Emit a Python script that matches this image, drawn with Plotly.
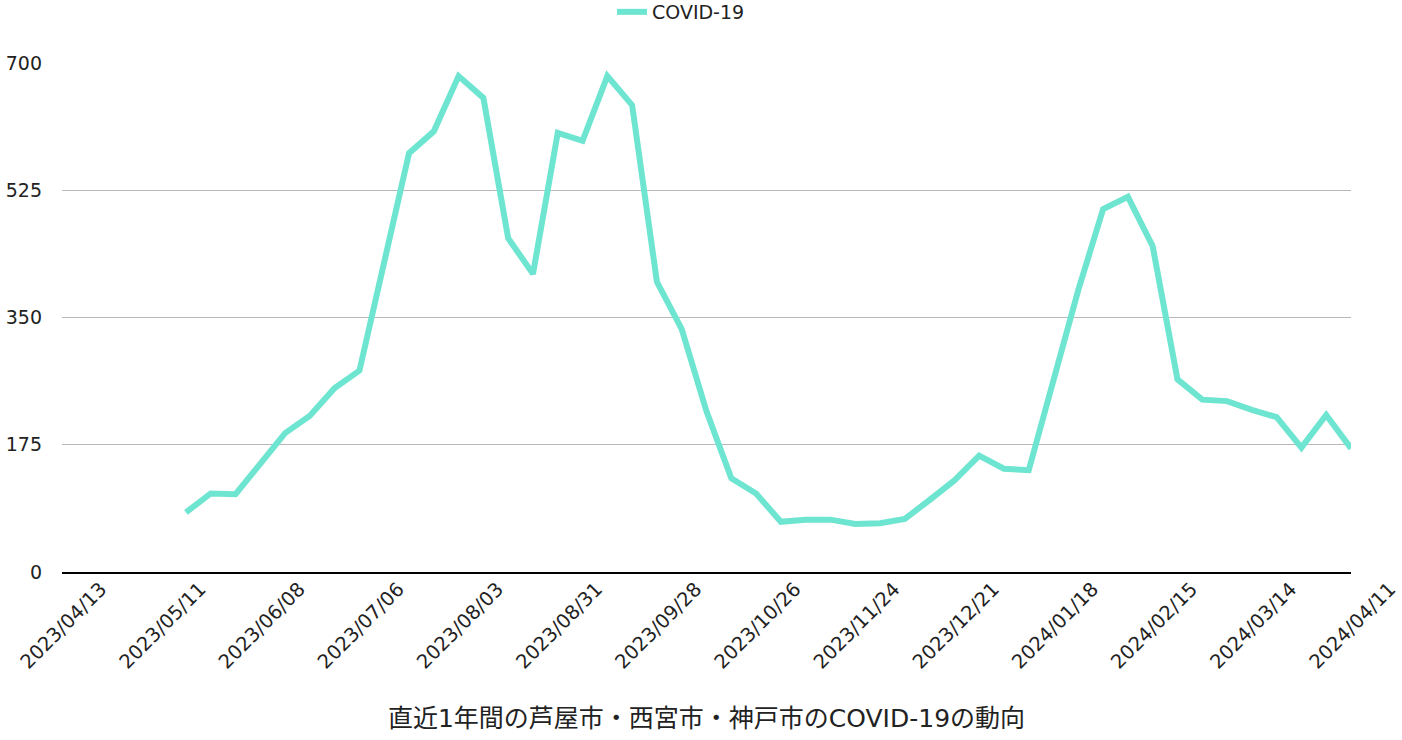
import datetime as dt
import plotly.graph_objects as go

start = dt.date(2023, 4, 13)
dates = [(start + dt.timedelta(weeks=i)).strftime("%Y/%m/%d") for i in range(53)]
dates[32] = "2023/11/24"

covid = [None, None, None, None, None,
         82, 108, 107, 150, 191, 215, 253, 277, 428, 576,
         606, 682, 652, 459, 410, 604, 593, 682, 642, 399,
         334, 221, 129, 108, 69, 72, 72, 66, 67, 73,
         99, 126, 160, 142, 140, 263, 388, 499, 516, 448,
         265, 237, 235, 223, 213, 171, 216, 170]

tick_labels = dates[::4]
y_ticks = [0, 175, 350, 525, 700]

font_family = "DejaVu Sans, Noto Sans CJK JP, sans-serif"

W, H = 1402, 740

fig = go.Figure()
fig.add_trace(go.Scatter(
    x=dates, y=covid, mode="lines", name="COVID-19",
    line=dict(color="#6ee5d0", width=6),
    connectgaps=False,
))

fig.update_layout(
    width=W, height=H,
    margin=dict(l=62, r=51, t=63, b=168),
    paper_bgcolor="white", plot_bgcolor="white",
    font=dict(family=font_family, size=19, color="#222"),
    showlegend=True,
    legend=dict(orientation="h", xref="container", yref="container",
                x=612 / W, xanchor="left", y=1 - 12 / H, yanchor="middle",
                font=dict(size=19), itemwidth=30),
    xaxis=dict(
        type="category", categoryorder="array", categoryarray=dates,
        tickmode="array", tickvals=tick_labels, ticktext=tick_labels,
        tickangle=-45, showgrid=False, range=[0, 52], automargin=False,
        showline=True, linecolor="black", linewidth=2,
        ticklabelshift=39, ticklabelstandoff=-4,
        tickfont=dict(size=19.5),
        title=dict(text="直近1年間の芦屋市・西宮市・神戸市のCOVID-19の動向",
                   font=dict(size=25), standoff=37),
    ),
    yaxis=dict(
        range=[0, 700], tickvals=y_ticks, ticktext=[str(v) for v in y_ticks],
        showgrid=True, gridcolor="#b8b8b8", gridwidth=1, automargin=False,
        zeroline=False, ticklabelstandoff=19, tickfont=dict(size=19),
    ),
)

fig.write_html("out.html", config={"displayModeBar": False},
               post_script="document.body.style.margin='0';")
